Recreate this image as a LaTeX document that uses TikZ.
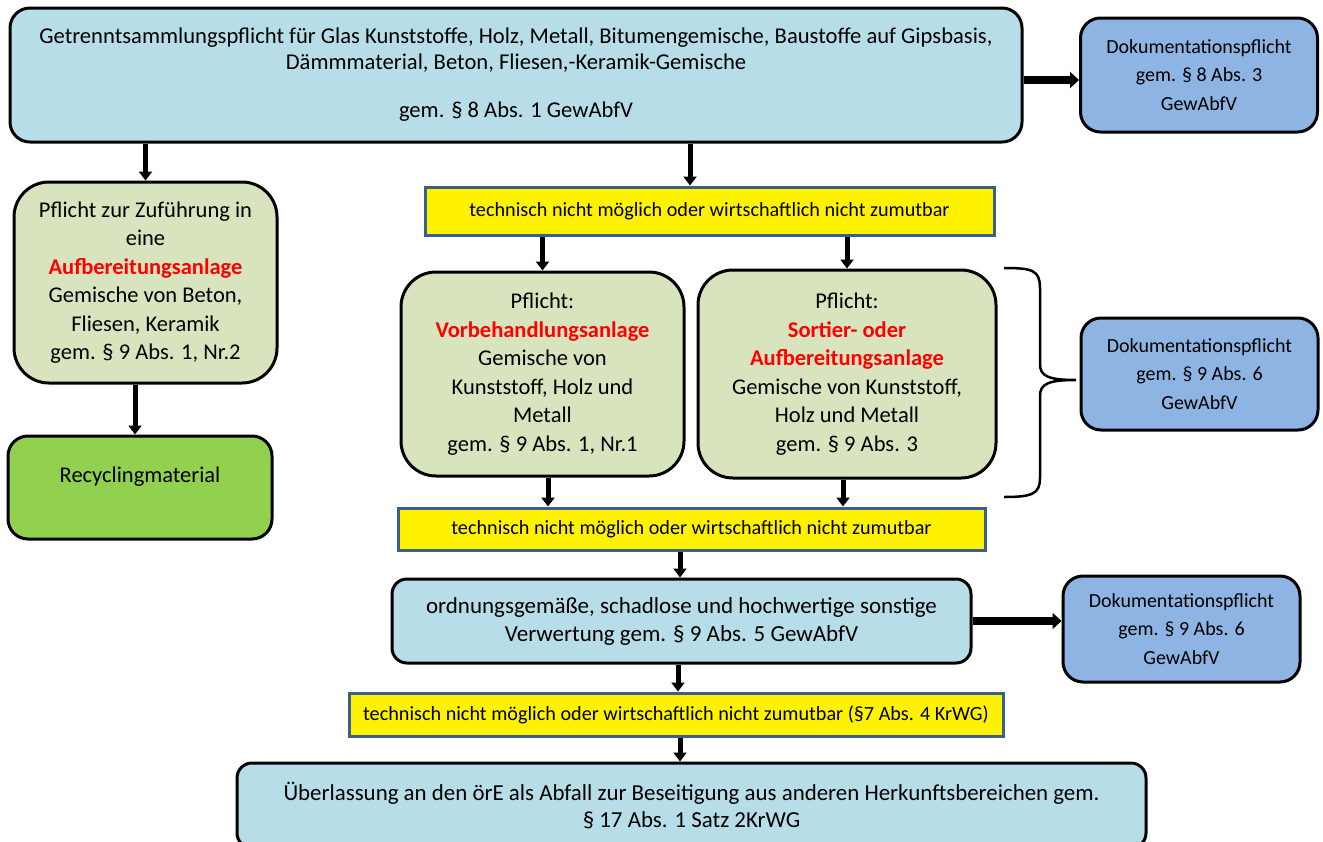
\documentclass[tikz,border=0pt]{standalone}
\usepackage{fontspec}
\setmainfont{Carlito}
\usetikzlibrary{arrows.meta,calc}
\definecolor{lblue}{HTML}{B7DEE8}
\definecolor{dblue}{HTML}{8EB4E3}
\definecolor{lgreen}{HTML}{D7E4BD}
\definecolor{rgreen}{HTML}{92D050}
\definecolor{ybord}{HTML}{3A5F8F}
\definecolor{hred}{HTML}{FF0000}
\newcommand{\hl}[1]{\textcolor{hred}{\textbf{#1}}}
\tikzset{
  box/.style={draw=black, line width=3pt, rounded corners=20pt, align=center, inner sep=0pt},
  bluebox/.style={box, fill=lblue},
  dokubox/.style={box, fill=dblue, minimum width=237pt, font=\fontsize{20}{28.5}\selectfont},
  greenbox/.style={box, fill=lgreen, rounded corners=35pt, font=\fontsize{22.5}{28.5}\selectfont},
  recbox/.style={box, fill=rgreen, minimum width=264pt, minimum height=103pt},
  ybox/.style={draw=ybord, line width=3pt, fill=yellow, inner sep=0pt, font=\fontsize{20.2}{24}\selectfont},
  arr/.style={line width=5pt, -{Triangle[length=9pt,width=13pt]}},
  bigarr/.style={line width=8pt, -{Triangle[length=9pt,width=16pt]}},
}
\begin{document}
\begin{tikzpicture}[x=1pt,y=-1pt]
\useasboundingbox (0,0) rectangle (1323,841);
\clip (0,0) rectangle (1323,841);

\node[bluebox, minimum width=1012pt, minimum height=134pt, font=\fontsize{22.6}{26}\selectfont] (top) at (516,75)
  {Getrenntsammlungspflicht für Glas Kunststoffe, Holz, Metall, Bitumengemische, Baustoffe auf Gipsbasis,\\
   Dämmmaterial, Beton, Fliesen,-Keramik-Gemische\\[22pt]
   gem. § 8 Abs. 1 GewAbfV};
\node[dokubox, minimum height=114pt] (d1) at (1199,75) {Dokumentationspflicht\\ gem. § 8 Abs. 3\\ GewAbfV};

\node[greenbox, minimum width=263pt, minimum height=201pt] (g1) at (145.5,282.5)
  {Pflicht zur Zuführung in\\ eine\\ \hl{Aufbereitungsanlage}\\ Gemische von Beton,\\ Fliesen, Keramik\\ gem. § 9 Abs. 1, Nr.2};
\node[recbox] (rec) at (140,487.5) {};
\node[font=\fontsize{22.5}{28}\selectfont] (rect) at (140,477) {Recyclingmaterial};

\node[ybox, minimum width=569pt, minimum height=48pt] (y1) at (709.5,211) {technisch nicht möglich oder wirtschaftlich nicht zumutbar};

\node[greenbox, minimum width=283pt, minimum height=204pt] (g2) at (542.5,374)
  {Pflicht:\\ \hl{Vorbehandlungsanlage}\\ Gemische von\\ Kunststoff, Holz und\\ Metall\\ gem. § 9 Abs. 1, Nr.1};
\node[greenbox, minimum width=298pt, minimum height=208pt] (g3) at (847,374)
  {Pflicht:\\ \hl{Sortier- oder}\\ \hl{Aufbereitungsanlage}\\ Gemische von Kunststoff,\\ Holz und Metall\\ gem. § 9 Abs. 3};
\node[dokubox, minimum height=112pt] (d2) at (1199.5,374) {Dokumentationspflicht\\ gem. § 9 Abs. 6\\ GewAbfV};

\node[ybox, minimum width=587pt, minimum height=42pt] (y2) at (691.5,529) {technisch nicht möglich oder wirtschaftlich nicht zumutbar};

\node[bluebox, rounded corners=15pt, minimum width=579pt, minimum height=84pt, font=\fontsize{23}{28}\selectfont] (ordn) at (681.5,621)
  {ordnungsgemäße, schadlose und hochwertige sonstige\\ Verwertung gem. § 9 Abs. 5 GewAbfV};
\node[dokubox, minimum height=106pt] (d3) at (1181.5,629) {Dokumentationspflicht\\ gem. § 9 Abs. 6\\ GewAbfV};

\node[ybox, minimum width=654pt, minimum height=43pt] (y3) at (676,714.5) {technisch nicht möglich oder wirtschaftlich nicht zumutbar (§7 Abs. 4 KrWG)};

\node[bluebox, rounded corners=15pt, minimum width=909pt, minimum height=85pt, font=\fontsize{22.9}{27}\selectfont] (bot) at (691.5,805.5)
  {Überlassung an den örE als Abfall zur Beseitigung aus anderen Herkunftsbereichen gem.\\ § 17 Abs. 1 Satz 2KrWG};

% helper coordinates for connector positions
\coordinate (xa) at (690,0);
\coordinate (xb) at (135,0);
\coordinate (xc) at (680,0);
\coordinate (ya) at (0,80);

\draw[bigarr] (top.east |- ya) -- (d1.west |- ya);
\draw[arr] (top.south -| g1.north) -- (g1.north);
\draw[arr] (top.south -| xa) -- (y1.north -| xa);
\draw[arr] (g1.south -| xb) -- (rec.north -| xb);
\draw[arr] (y1.south -| g2.north) -- (g2.north);
\draw[arr] (y1.south -| g3.north) -- (g3.north);
\draw[arr] ([xshift=5.5pt]g2.south) -- ([xshift=5.5pt]g2.south |- y2.north);
\draw[arr] ([xshift=-4pt]g3.south) -- ([xshift=-4pt]g3.south |- y2.north);
\draw[arr] (y2.south -| xc) -- (ordn.north -| xc);
\draw[bigarr] (ordn.east) -- (ordn.east -| d3.west);
\draw[arr] ([xshift=-3.5pt]ordn.south) -- ([xshift=-3.5pt]ordn.south |- y3.north);
\draw[arr] (y3.south -| xc) -- (bot.north -| xc);

% curly brace
\draw[line width=2.5pt]
  (1004,268) .. controls (1032,268) and (1040,270) .. (1040,288)
  -- (1040,364) .. controls (1040,376) and (1048,380) .. (1076,380)
  .. controls (1048,380) and (1040,384) .. (1040,396)
  -- (1040,478) .. controls (1040,494) and (1032,497) .. (1004,497);
\end{tikzpicture}
\end{document}
